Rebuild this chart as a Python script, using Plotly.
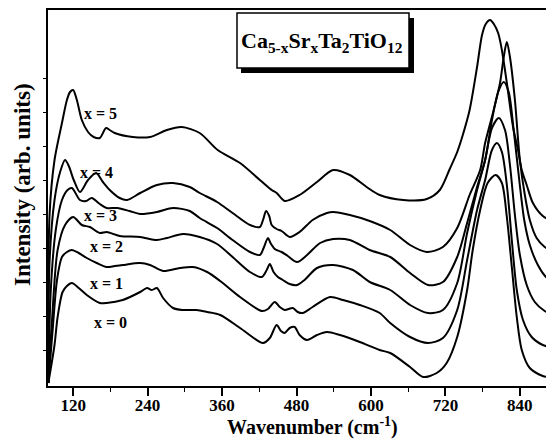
import plotly.graph_objects as go

# ---- data (wavenumber in cm^-1, intensity in arbitrary units) ----
wn_x5 = [80, 82, 90, 102, 110, 115, 120, 126, 134, 144, 153, 163, 173, 179, 187, 216, 244, 271, 295, 324,
         353, 389, 421, 440, 448, 461, 485, 513, 539, 566, 593, 614, 652, 690, 711, 727, 739, 748, 759,
         771, 779, 785, 792, 798, 805, 811, 819, 829, 837, 843, 851, 861, 877, 895]
int_x5 = [2, 170, 225, 262, 285, 293, 295, 285, 265, 253, 248, 247, 257, 255, 252, 248, 248, 255, 258, 252,
          235, 222, 205, 195, 192, 184, 190, 203, 215, 210, 198, 190, 185, 186, 195, 216, 233, 250, 275,
          318, 350, 361, 365, 361, 352, 335, 302, 258, 235, 215, 200, 182, 169, 163]

wn_x4 = [80, 82, 90, 99, 107, 113, 121, 131, 144, 157, 168, 179, 195, 207, 228, 255, 281, 308, 324, 352,
         377, 405, 421, 426, 431, 436, 440, 448, 456, 469, 485, 506, 529, 539, 566, 598, 631, 663, 690,
         716, 739, 759, 776, 784, 797, 808, 814, 819, 824, 832, 840, 848, 856, 867, 880, 895]
int_x4 = [2, 123, 185, 213, 225, 219, 205, 193, 205, 212, 203, 195, 187, 185, 192, 200, 202, 198, 192, 183,
          172, 160, 158, 165, 174, 169, 160, 156, 154, 148, 153, 165, 172, 173, 170, 164, 155, 140, 133,
          138, 157, 190, 215, 242, 273, 302, 328, 343, 328, 285, 225, 190, 165, 147, 138, 133]

wn_x3 = [80, 84, 92, 102, 111, 118, 131, 141, 150, 163, 174, 191, 211, 228, 255, 281, 308, 324, 352, 377,
         405, 421, 427, 434, 438, 445, 456, 466, 481, 497, 518, 539, 566, 598, 631, 663, 692, 716, 739,
         755, 771, 784, 795, 805, 814, 822, 830, 839, 847, 856, 869, 882, 895]
int_x3 = [2, 95, 155, 185, 195, 197, 185, 184, 187, 181, 177, 177, 174, 171, 173, 177, 174, 167, 157, 145,
          133, 130, 137, 147, 142, 136, 133, 129, 123, 130, 142, 146, 145, 135, 128, 112, 100, 103, 128,
          162, 198, 225, 265, 293, 303, 293, 255, 205, 165, 140, 120, 108, 102]

wn_x2 = [80, 86, 95, 107, 120, 134, 147, 163, 174, 195, 228, 255, 271, 297, 324, 352, 377, 405, 424, 432,
         437, 443, 450, 458, 469, 481, 493, 513, 539, 571, 598, 631, 663, 692, 716, 739, 755, 771, 784,
         795, 806, 816, 824, 832, 840, 851, 864, 880, 895]
int_x2 = [2, 65, 135, 160, 168, 160, 158, 152, 153, 149, 148, 145, 147, 151, 148, 141, 128, 113, 108, 115,
          121, 113, 108, 105, 101, 100, 105, 117, 120, 115, 103, 95, 80, 72, 75, 102, 152, 195, 225,
          257, 267, 255, 220, 170, 130, 100, 83, 74, 70]

wn_x1 = [80, 87, 94, 102, 110, 118, 129, 142, 158, 174, 187, 200, 228, 244, 265, 292, 313, 336, 357, 389,
         424, 434, 445, 453, 461, 474, 482, 490, 506, 534, 555, 582, 614, 631, 663, 692, 716, 739, 755,
         771, 784, 795, 803, 811, 819, 827, 835, 845, 859, 877, 895]
int_x1 = [2, 55, 105, 128, 133, 135, 132, 127, 122, 118, 119, 120, 122, 120, 114, 117, 118, 113, 104, 88,
          74, 76, 83, 78, 75, 77, 73, 72, 78, 88, 85, 80, 72, 62, 48, 42, 47, 75, 125,
          175, 205, 235, 242, 233, 200, 145, 95, 65, 48, 40, 37]

wn_x0 = [80, 90, 95, 103, 110, 118, 129, 142, 163, 174, 200, 228, 239, 247, 255, 265, 281, 297, 319, 336,
         357, 389, 426, 437, 448, 455, 461, 469, 477, 485, 497, 513, 529, 550, 582, 614, 631, 663, 684,
         706, 722, 739, 755, 764, 776, 788, 801, 811, 819, 827, 835, 843, 856, 877, 895]
int_x0 = [2, 40, 68, 93, 99, 102, 97, 90, 82, 82, 85, 93, 97, 95, 97, 87, 77, 75, 75, 73,
          70, 57, 42, 47, 60, 54, 52, 57, 58, 50, 45, 50, 53, 50, 43, 35, 32, 18, 8,
          12, 22, 48, 95, 135, 175, 202, 210, 202, 168, 118, 68, 35, 17, 9, 7]

series = [
    ("x = 5", wn_x5, int_x5),
    ("x = 4", wn_x4, int_x4),
    ("x = 3", wn_x3, int_x3),
    ("x = 2", wn_x2, int_x2),
    ("x = 1", wn_x1, int_x1),
    ("x = 0", wn_x0, int_x0),
]

x_tick_vals = [120, 240, 360, 480, 600, 720, 840]
x_tick_text = ["120", "240", "360", "480", "600", "720", "840"]
y_tick_vals = [35, 69, 103, 137, 171, 205, 239, 273, 307]

title_text = "Ca<sub>5-x</sub>Sr<sub>x</sub>Ta<sub>2</sub>TiO<sub>12</sub>"
x_title = "Wavenumber (cm<sup>-1</sup>)"
y_title = "Intensity (arb. units)"

# ---- layout helpers (page pixel -> paper); the page body adds an 8px offset ----
OFF = 8
W, H = 554, 448
L, R, T, B = 48, 554, 10, 386          # plot area in page pixels
def px(x):
    return (x - L) / (R - L)
def py(y):
    return (B - y) / (B - T)

FONT = "Liberation Serif"

fig = go.Figure()
for name, xs, ys in series:
    fig.add_trace(go.Scatter(x=xs, y=ys, mode="lines", name=name,
                             line=dict(color="black", width=2, shape="spline", smoothing=0.8),
                             hoverinfo="skip", showlegend=False))

# curve labels
label_pos = {"x = 5": (100, 113), "x = 4": (96, 172), "x = 3": (100, 215),
             "x = 2": (106, 247), "x = 1": (106, 283), "x = 0": (110, 322)}
for name, (lx, ly) in label_pos.items():
    fig.add_annotation(x=px(lx), y=py(ly), xref="paper", yref="paper", text="<b>%s</b>" % name,
                       showarrow=False, xanchor="center", yanchor="middle",
                       font=dict(family=FONT, size=16, color="black"))

# title box with shadow
fig.add_shape(type="rect", xref="paper", yref="paper", x0=px(241), x1=px(414), y0=py(73), y1=py(18),
              fillcolor="black", line=dict(width=0), layer="above")
fig.add_shape(type="rect", xref="paper", yref="paper", x0=px(237), x1=px(409), y0=py(68), y1=py(13),
              fillcolor="white", line=dict(color="black", width=1.5), layer="above")
fig.add_annotation(x=px(322), y=py(42), xref="paper", yref="paper", text="<b>%s</b>" % title_text,
                   showarrow=False, xanchor="center", yanchor="middle",
                   font=dict(family=FONT, size=22, color="black"))

# axis titles
fig.add_annotation(x=px(312), y=py(426), xref="paper", yref="paper", text="<b>%s</b>" % x_title,
                   showarrow=False, xanchor="center", yanchor="middle",
                   font=dict(family=FONT, size=20, color="black"))
fig.add_annotation(x=px(22), y=py(185), xref="paper", yref="paper", text="<b>%s</b>" % y_title,
                   showarrow=False, xanchor="center", yanchor="middle", textangle=-90,
                   font=dict(family=FONT, size=23, color="black"))

fig.update_layout(
    width=W - OFF, height=H - OFF,
    margin=dict(l=L - OFF, r=0, t=T - OFF, b=H - B),
    paper_bgcolor="white", plot_bgcolor="white",
    xaxis=dict(range=[79.5, 895], tickvals=x_tick_vals, ticktext=x_tick_text,
               ticks="outside", ticklen=8, tickwidth=1.5, tickcolor="black",
               ticklabelstandoff=-5,
               showline=True, linecolor="black", linewidth=2, mirror=True,
               showgrid=False, zeroline=False,
               tickfont=dict(family=FONT, size=17, color="black", weight="bold"),
               minor=dict(ticks="outside", ticklen=4, tickwidth=1.2, tickcolor="black",
                          tick0=0, dtick=60, showgrid=False)),
    yaxis=dict(range=[-1, 375], tickvals=y_tick_vals, showticklabels=False,
               ticks="outside", ticklen=3, tickwidth=1, tickcolor="black",
               showline=True, linecolor="black", linewidth=2, mirror=False,
               showgrid=False, zeroline=False),
)

fig.write_html("out.html")
